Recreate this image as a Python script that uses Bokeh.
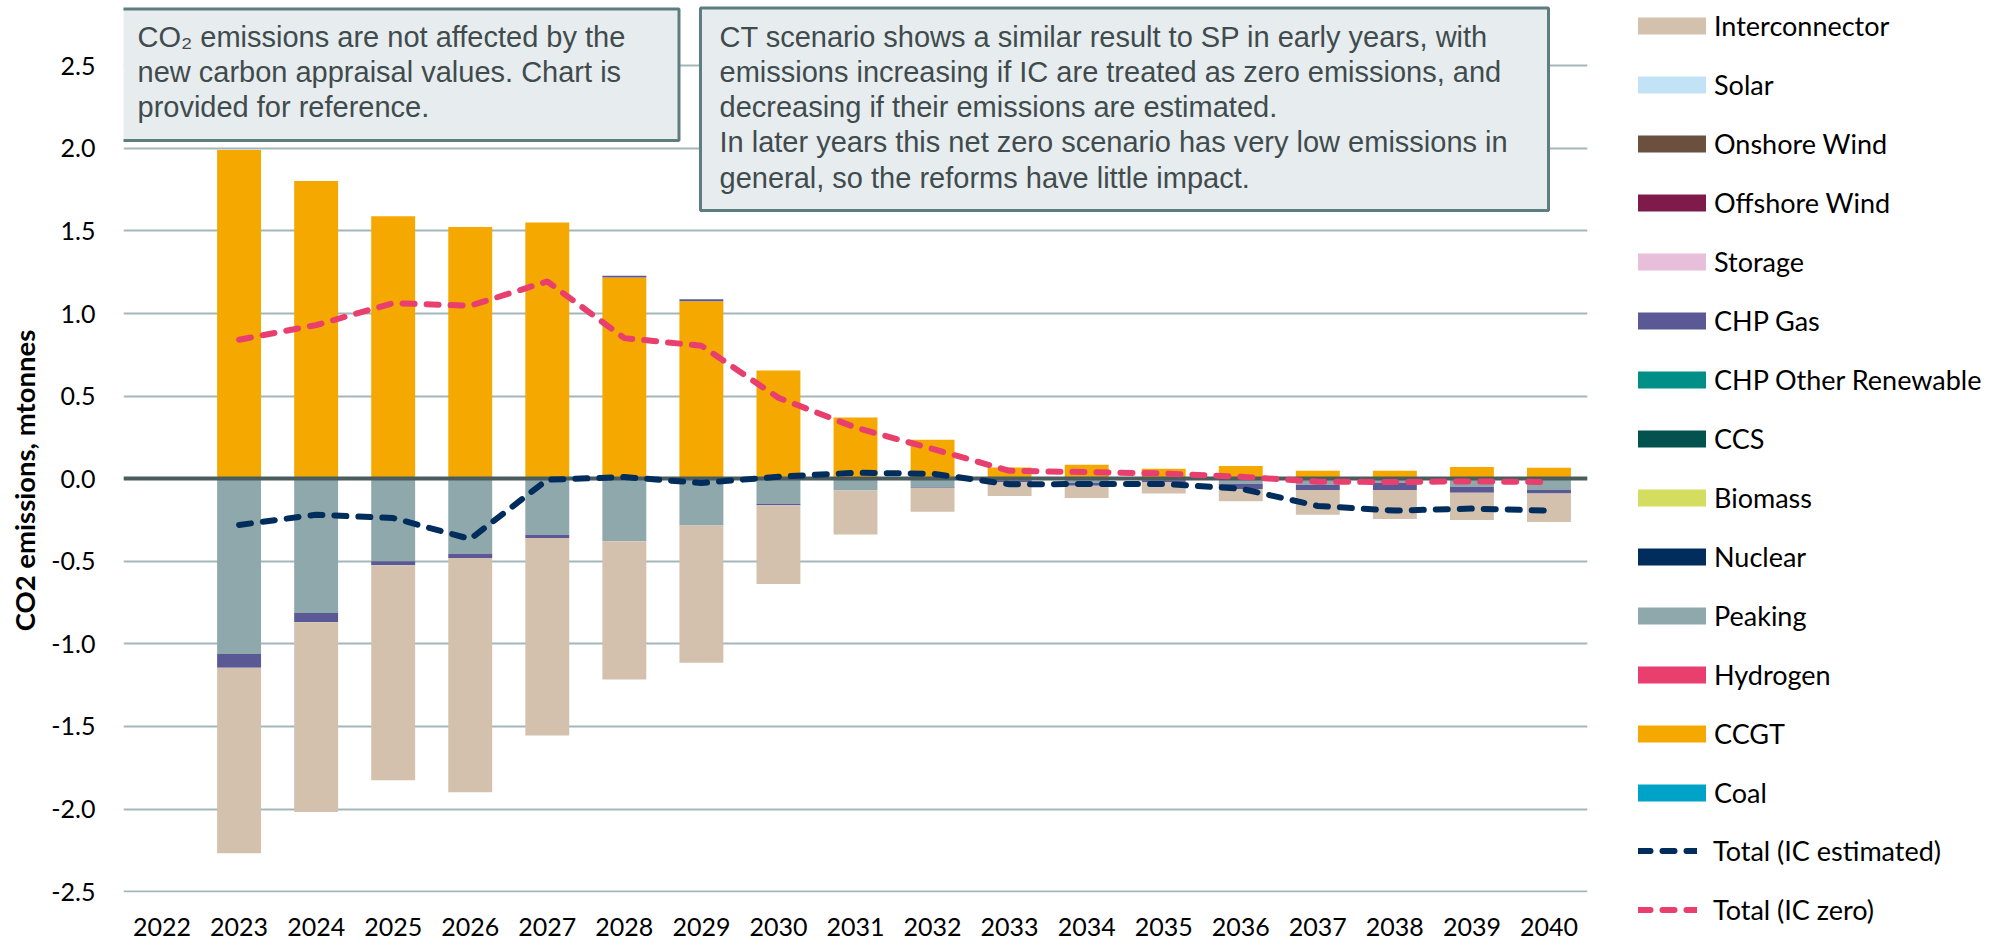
import numpy as np
from math import pi
from bokeh.plotting import figure
from bokeh.layouts import row
from bokeh.models import (FactorRange, Range1d, ColumnDataSource, FixedTicker, PrintfTickFormatter,
                          Legend, LegendItem, Label, BoxAnnotation)
from bokeh.embed import file_html
from bokeh.resources import INLINE

years = [str(y) for y in range(2022, 2041)]

# Excel series order (stacking order); legend lists them in reverse
coal         = [0]*19
ccgt         = [0, 1.990, 1.803, 1.589, 1.524, 1.551, 1.218, 1.075, 0.655, 0.371, 0.236, 0.068, 0.085, 0.060, 0.077, 0.048, 0.048, 0.071, 0.067]
hydrogen     = [0]*19
peaking      = [0, -1.061, -0.813, -0.500, -0.454, -0.339, -0.379, -0.284, -0.151, -0.071, -0.050, -0.010, -0.025, -0.010, -0.030, -0.036, -0.026, -0.050, -0.068]
nuclear      = [0]*19
biomass      = [0]*19
ccs          = [0]*19
chp_other    = [0]*19
chp_gas      = [0, -0.084, -0.056, -0.024, -0.026, -0.020, 0.010, 0.012, -0.010, 0, -0.005, -0.010, -0.017, -0.010, -0.032, -0.032, -0.042, -0.035, -0.021]
storage      = [0]*19
offshore     = [0]*19
onshore      = [0]*19
solar        = [0]*19
interconn    = [0, -1.122, -1.148, -1.301, -1.418, -1.196, -0.837, -0.830, -0.476, -0.266, -0.145, -0.085, -0.075, -0.069, -0.075, -0.150, -0.176, -0.165, -0.173]

total_ic_est  = [np.nan, -0.280, -0.218, -0.238, -0.365, -0.006, 0.010, -0.026, 0.012, 0.036, 0.030, -0.034, -0.032, -0.032, -0.060, -0.165, -0.193, -0.181, -0.193]
total_ic_zero = [np.nan, 0.841, 0.930, 1.063, 1.047, 1.194, 0.851, 0.805, 0.490, 0.310, 0.180, 0.048, 0.040, 0.032, 0.012, -0.018, -0.020, -0.016, -0.020]

series = [
    ("Coal", coal, "#00A3C8"),
    ("CCGT", ccgt, "#F5A800"),
    ("Hydrogen", hydrogen, "#E83F6F"),
    ("Peaking", peaking, "#8FA8AB"),
    ("Nuclear", nuclear, "#002D5B"),
    ("Biomass", biomass, "#D4DD5F"),
    ("CCS", ccs, "#03524F"),
    ("CHP Other Renewable", chp_other, "#008F87"),
    ("CHP Gas", chp_gas, "#5B5896"),
    ("Storage", storage, "#E7BFDA"),
    ("Offshore Wind", offshore, "#7E1B4B"),
    ("Onshore Wind", onshore, "#6B4F3F"),
    ("Solar", solar, "#C2E3F6"),
    ("Interconnector", interconn, "#D3C1AD"),
]
EST_COLOR = "#002D5B"
ZERO_COLOR = "#E83F6F"

H = 945
TITLE_W = 42
MAIN_W = 1597 - TITLE_W
LEG_W = 1990 - 1597

# ---------------- y-axis title panel ----------------
pt = figure(width=TITLE_W, height=H, output_backend="svg", toolbar_location=None,
            x_range=Range1d(0, 1), y_range=Range1d(0, 1),
            x_axis_type=None, y_axis_type=None,
            min_border_left=0, min_border_right=0, min_border_top=0, min_border_bottom=0)
pt.frame_align = False
pt.outline_line_color = None
pt.xgrid.visible = False
pt.ygrid.visible = False
pt.add_layout(Label(x=24, y=480, x_units="canvas", y_units="canvas", angle=pi/2,
                    text="CO2 emissions, mtonnes", text_font="Lato", text_font_style="bold",
                    text_font_size="27.5px", text_align="center", text_baseline="middle",
                    text_color="#000000"))

# ---------------- main chart ----------------
p = figure(x_range=FactorRange(factors=years, range_padding=0),
           y_range=Range1d(-2.505, 2.895),
           width=MAIN_W, height=H, output_backend="svg", toolbar_location=None,
           min_border_left=123 - TITLE_W, min_border_right=10, min_border_top=0, min_border_bottom=53)
p.outline_line_color = None
p.background_fill_color = "white"
p.border_fill_color = "white"

pos_base = np.zeros(19)
neg_base = np.zeros(19)
for name, vals, color in series:
    v = np.array(vals, dtype=float)
    bottom = np.where(v >= 0, pos_base, neg_base + v)
    top = np.where(v >= 0, pos_base + v, neg_base)
    pos_base = pos_base + np.where(v > 0, v, 0)
    neg_base = neg_base + np.where(v < 0, v, 0)
    src = ColumnDataSource(dict(x=years, top=top, bottom=bottom))
    p.vbar(x="x", top="top", bottom="bottom", width=0.57, source=src,
           fill_color=color, line_color=None)

# zero line drawn over the bars but under the totals
p.hspan(y=[0], line_color="#4A5C5E", line_width=4)

p.line(years, total_ic_est, line_color=EST_COLOR, line_width=6,
       line_dash="12 12", line_cap="round")
p.line(years, total_ic_zero, line_color=ZERO_COLOR, line_width=6,
       line_dash="12 12", line_cap="round")

ticks = [-2.5, -2.0, -1.5, -1.0, -0.5, 0.0, 0.5, 1.0, 1.5, 2.0, 2.5]
p.yaxis.ticker = FixedTicker(ticks=ticks)
p.yaxis.formatter = PrintfTickFormatter(format="%.1f")
p.ygrid.ticker = FixedTicker(ticks=ticks)
p.ygrid.grid_line_color = "#A3B7BA"
p.ygrid.grid_line_width = 2
p.xgrid.grid_line_color = None
for ax in (p.xaxis, p.yaxis):
    ax.axis_line_color = None
    ax.major_tick_line_color = None
    ax.minor_tick_line_color = None
    ax.major_tick_out = 0
    ax.major_tick_in = 0
    ax.minor_tick_out = 0
    ax.minor_tick_in = 0
    ax.major_label_text_font = "Lato"
    ax.major_label_text_font_size = "25px"
    ax.major_label_text_color = "#000000"
p.yaxis.major_label_standoff = 28
p.xaxis.major_label_standoff = 25

# annotation boxes (canvas px of the main chart, which starts after the title panel)
off = TITLE_W
box_fill = "#E7ECEE"
box_line = "#5E7D81"
p.add_layout(BoxAnnotation(left=119 - off, right=678.5 - off, top=8.5, bottom=140,
                           left_units="canvas", right_units="canvas",
                           top_units="canvas", bottom_units="canvas",
                           fill_color=box_fill, fill_alpha=1, line_color=box_line,
                           line_alpha=1, line_width=3))
p.add_layout(BoxAnnotation(left=700 - off, right=1548 - off, top=7.5, bottom=210,
                           left_units="canvas", right_units="canvas",
                           top_units="canvas", bottom_units="canvas",
                           fill_color=box_fill, fill_alpha=1, line_color=box_line,
                           line_alpha=1, line_width=3))
txt1 = "CO\u2082 emissions are not affected by the\nnew carbon appraisal values. Chart is\nprovided for reference."
txt2 = ("CT scenario shows a similar result to SP in early years, with\n"
        "emissions increasing if IC are treated as zero emissions, and\n"
        "decreasing if their emissions are estimated.\n"
        "In later years this net zero scenario has very low emissions in\n"
        "general, so the reforms have little impact.")
p.add_layout(Label(x=137 - off, y=71.7, x_units="canvas", y_units="canvas", text=txt1,
                   text_font="Liberation Sans", text_font_size="29px", text_color="#3F4B4D",
                   text_align="left", text_baseline="middle", text_line_height=1.1))
p.add_layout(Label(x=719 - off, y=106.7, x_units="canvas", y_units="canvas", text=txt2,
                   text_font="Liberation Sans", text_font_size="29px", text_color="#3F4B4D",
                   text_align="left", text_baseline="middle", text_line_height=1.1))

# ---------------- legend panel ----------------
pl = figure(width=LEG_W, height=H, output_backend="svg", toolbar_location=None,
            x_range=Range1d(0, 1), y_range=Range1d(0, 1),
            x_axis_type=None, y_axis_type=None,
            min_border_left=0, min_border_right=0, min_border_top=0, min_border_bottom=0)
pl.frame_align = False
pl.outline_line_color = None
pl.xgrid.visible = False
pl.ygrid.visible = False

bar_items = []
for name, _, color in reversed(series):
    r = pl.vbar(x=[np.nan], top=[np.nan], width=0.5, fill_color=color, line_color=None)
    bar_items.append(LegendItem(label=name, renderers=[r]))
r_est = pl.line([np.nan], [np.nan], line_color=EST_COLOR, line_width=6, line_dash="12 12", line_cap="round")
r_zero = pl.line([np.nan], [np.nan], line_color=ZERO_COLOR, line_width=6, line_dash="12 12", line_cap="round")
line_items = [LegendItem(label="Total (IC estimated)", renderers=[r_est]),
              LegendItem(label="Total (IC zero)", renderers=[r_zero])]

common = dict(orientation="vertical", label_height=33, spacing=26, padding=0, margin=0,
              border_line_color=None, background_fill_alpha=0, label_text_font="Lato",
              label_text_font_size="27px", label_text_color="#000000")
legend_bars = Legend(items=bar_items, location=(32, 136.5),
                     glyph_width=85, glyph_height=21, label_standoff=0, **common)
legend_lines = Legend(items=line_items, location=(41, 19.5),
                      glyph_width=59, glyph_height=21, label_standoff=16, **common)
pl.add_layout(legend_bars)
pl.add_layout(legend_lines)

layout = row(pt, p, pl, spacing=0)
open("out.html", "w").write(file_html(layout, INLINE))
